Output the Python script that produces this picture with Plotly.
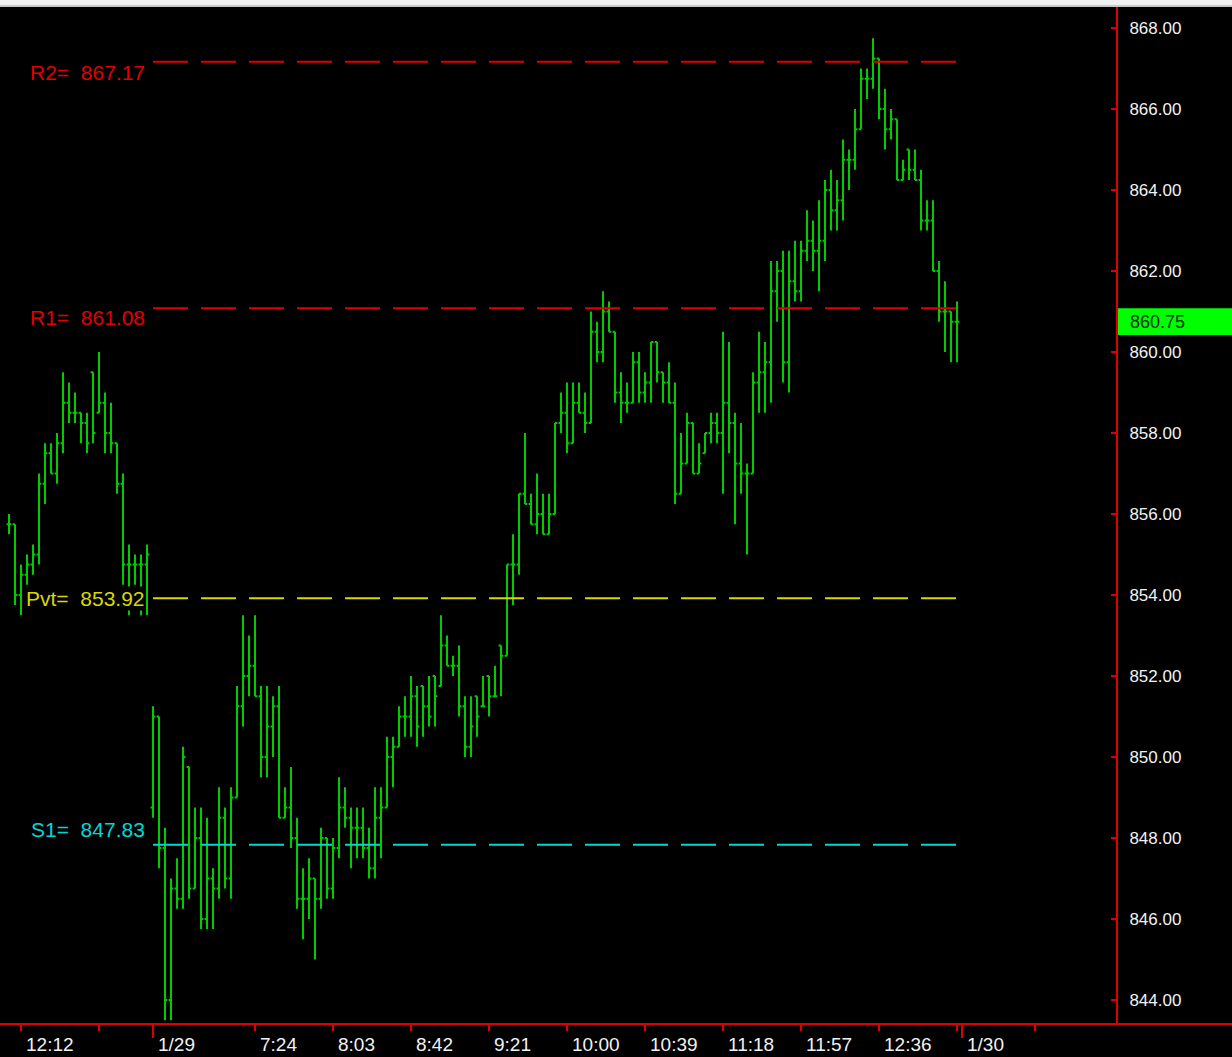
import plotly.graph_objects as go

# ---------------- data (3-minute bars) ----------------
opens = [855.75, 855.75, 854.00, 854.50, 854.75, 855.00, 856.75, 857.50, 857.00, 857.75,
         858.75, 858.50, 858.50, 858.25, 859.50, 858.50, 858.75, 858.00, 857.75, 856.75,
         854.75, 854.75, 854.75, 854.75,
         848.75, 851.00, 847.75, 844.00, 846.75, 846.50, 849.75, 846.75, 848.00, 846.00,
         847.00, 846.75, 848.50, 847.00, 849.00, 851.25, 852.00, 852.25, 851.50, 850.00,
         850.75, 851.25, 848.50, 848.75, 848.00, 846.50, 846.50, 847.00, 846.50, 848.00,
         846.75, 847.75, 848.75, 848.50, 848.25, 848.25, 847.75, 847.25, 848.50, 848.75,
         850.00, 850.25, 851.00, 851.00, 851.50, 851.75, 851.25, 852.00, 851.75, 852.75,
         852.25, 852.25, 851.25, 850.25, 851.50, 851.25, 852.00, 851.50, 852.75, 852.50,
         854.75, 854.75, 856.50, 856.25, 855.75, 856.00, 855.50, 856.00, 858.25, 858.50,
         857.75, 858.75, 858.50, 858.25, 860.50, 860.00, 861.00, 860.50, 859.00, 858.75,
         858.75, 859.75, 859.00, 859.25, 860.25, 859.50, 859.25, 858.75, 856.50, 857.25,
         858.25, 857.00, 857.50, 858.00, 858.25, 858.00, 858.75, 858.25, 857.25, 857.00,
         857.00, 859.25, 859.50, 859.75, 861.50, 862.00, 859.75, 861.75, 861.50, 862.50,
         862.75, 862.50, 862.75, 864.00, 863.50, 863.75, 864.75, 864.75, 865.50, 866.75,
         866.75, 867.25, 866.00, 865.50, 865.75, 864.25, 865.00, 864.50, 864.25, 863.25,
         863.25, 862.00, 861.00, 861.00, 860.75]
highs = [856.00, 855.75, 854.75, 855.00, 855.25, 857.00, 857.75, 857.75, 858.00, 859.50,
         859.25, 859.00, 858.50, 858.50, 859.50, 860.00, 859.00, 858.75, 857.75, 857.00,
         855.25, 855.00, 855.00, 855.25,
         851.25, 851.00, 848.25, 847.00, 847.50, 850.25, 849.75, 848.75, 848.75, 848.50,
         847.25, 849.25, 848.75, 849.25, 851.75, 853.50, 853.00, 853.50, 851.75, 851.75,
         851.50, 851.75, 849.25, 849.75, 848.50, 847.25, 847.50, 847.00, 848.25, 848.00,
         848.00, 849.50, 849.25, 848.75, 848.75, 848.75, 848.25, 849.25, 849.25, 850.50,
         850.50, 851.25, 851.50, 852.00, 851.75, 851.75, 852.00, 852.00, 853.50, 853.00,
         852.50, 852.75, 851.50, 851.50, 851.50, 852.00, 852.00, 852.25, 852.75, 854.75,
         855.50, 856.50, 858.00, 856.50, 857.00, 856.50, 856.50, 858.25, 859.00, 859.25,
         859.25, 859.25, 859.00, 861.00, 860.75, 861.50, 861.25, 860.50, 859.50, 859.25,
         860.00, 860.00, 859.50, 860.25, 860.25, 859.50, 859.75, 859.25, 858.00, 858.50,
         858.25, 857.75, 858.00, 858.50, 858.50, 860.50, 860.25, 858.50, 858.25, 857.25,
         859.50, 860.50, 860.25, 862.25, 862.25, 862.50, 862.50, 862.75, 862.75, 863.50,
         863.25, 863.75, 864.25, 864.50, 864.25, 865.25, 865.00, 866.00, 867.00, 867.00,
         867.75, 867.25, 866.50, 866.00, 865.75, 864.75, 865.00, 865.00, 864.50, 863.75,
         863.75, 862.25, 861.75, 861.00, 861.25]
lows = [855.50, 853.75, 853.50, 854.25, 854.50, 854.75, 856.25, 857.00, 856.75, 857.50,
        858.25, 858.25, 857.75, 857.50, 857.75, 858.50, 857.50, 857.50, 856.50, 854.25,
        853.50, 854.25, 853.50, 853.50,
        848.50, 847.25, 843.50, 843.50, 846.25, 846.25, 846.50, 846.75, 845.75, 845.75,
        845.75, 846.50, 846.75, 846.50, 849.00, 850.75, 851.50, 851.50, 849.50, 849.50,
        850.00, 848.50, 848.50, 847.75, 846.25, 845.50, 846.00, 845.00, 846.25, 846.50,
        846.50, 847.50, 848.25, 847.25, 847.50, 847.50, 847.00, 847.00, 847.50, 848.75,
        849.25, 850.25, 850.50, 850.50, 850.25, 850.50, 850.75, 850.75, 851.75, 852.25,
        852.00, 851.00, 850.00, 850.00, 850.50, 851.25, 851.00, 851.50, 851.50, 852.50,
        853.75, 854.50, 856.25, 855.75, 855.50, 855.50, 855.50, 856.00, 858.00, 857.50,
        857.75, 858.50, 858.00, 858.25, 859.75, 859.75, 860.50, 858.75, 858.25, 858.50,
        858.75, 858.75, 858.75, 858.75, 859.25, 858.75, 858.75, 856.25, 856.50, 857.25,
        857.00, 857.00, 857.50, 857.75, 857.75, 856.50, 857.50, 855.75, 856.50, 855.00,
        857.00, 858.50, 858.50, 858.75, 860.75, 859.25, 859.00, 861.25, 861.25, 862.25,
        862.00, 861.50, 862.25, 863.00, 863.00, 863.25, 864.00, 864.50, 865.50, 866.25,
        866.50, 865.75, 865.00, 865.25, 864.25, 864.25, 864.25, 864.25, 863.00, 863.00,
        862.00, 860.75, 860.00, 859.75, 859.75]
closes = [855.75, 854.00, 854.50, 854.75, 855.00, 856.75, 857.50, 857.00, 857.75, 858.75,
          858.50, 858.50, 858.25, 857.75, 858.00, 858.75, 858.00, 857.75, 856.75, 854.75,
          854.75, 854.75, 854.75, 855.00,
          851.00, 847.75, 844.00, 846.75, 846.50, 850.00, 846.75, 848.00, 846.00, 847.00,
          846.75, 848.50, 847.00, 849.00, 851.25, 852.00, 852.25, 851.50, 850.00, 850.75,
          851.25, 848.50, 848.75, 848.00, 846.50, 846.50, 847.00, 846.50, 848.00, 846.75,
          847.75, 848.75, 848.50, 848.25, 848.25, 847.75, 847.25, 848.50, 848.75, 850.00,
          850.25, 851.00, 851.00, 851.50, 850.75, 851.25, 851.00, 851.50, 852.75, 852.25,
          852.25, 851.25, 850.25, 850.75, 851.00, 851.25, 851.50, 851.50, 852.50, 854.75,
          854.75, 856.50, 856.25, 855.75, 856.00, 855.50, 856.00, 858.25, 858.50, 857.75,
          858.75, 858.50, 858.25, 860.50, 860.00, 861.00, 860.50, 859.00, 858.75, 858.75,
          859.75, 859.00, 859.25, 860.25, 859.50, 859.25, 858.75, 856.50, 857.25, 858.25,
          857.00, 857.25, 858.00, 858.25, 858.00, 858.75, 858.25, 857.25, 857.00, 857.00,
          859.25, 859.50, 859.75, 861.50, 862.00, 859.75, 861.75, 861.50, 862.50, 862.75,
          862.50, 862.75, 864.00, 863.50, 863.75, 864.75, 864.75, 865.50, 866.75, 866.75,
          867.25, 866.00, 865.50, 865.75, 864.25, 864.50, 864.50, 864.25, 863.25, 863.25,
          862.00, 861.00, 861.00, 860.75, 860.75]

bar_index = list(range(len(closes)))
session_start_bar = 24          # first bar of 1/29 day session
session_end_bar = len(closes) - 1

pivot_names = ["R2", "R1", "Pvt", "S1"]
pivot_values = [867.17, 861.08, 853.92, 847.83]
pivot_colors = ["#E00000", "#E00000", "#D8D800", "#00D8D8"]
pivot_label_levels = [866.91, 860.84, 853.92, 848.20]

last_price = 860.75

time_labels = ["12:12", "1/29", "7:24", "8:03", "8:42", "9:21", "10:00",
               "10:39", "11:18", "11:57", "12:36", "1/30"]
time_label_bars = [2, 24, 41, 54, 67, 80, 93, 106, 119, 132, 145, 158.9]
minor_tick_bars = [2, 15, 41, 54, 67, 80, 93, 106, 119, 132, 145, 158, 171]
major_tick_bars = [24, 158.9]

y_ticks = [844, 846, 848, 850, 852, 854, 856, 858, 860, 862, 864, 866, 868]

# ---------------- figure ----------------
W, H = 1232, 1057
ML, MR, MT, MB = 0, 116, 7, 33
PW, PH = W - ML - MR, H - MT - MB

GREEN = "#00CC00"
RED = "#DD0000"
TXT = "#F2F2F2"
FONT = "Arial, Liberation Sans, sans-serif"

fig = go.Figure()
fig.add_trace(go.Ohlc(
    x=bar_index, open=opens, high=highs, low=lows, close=closes,
    increasing=dict(line=dict(color=GREEN, width=2)),
    decreasing=dict(line=dict(color=GREEN, width=2)),
    tickwidth=0.4, hoverinfo="skip", showlegend=False,
))

for name, val, col in zip(pivot_names, pivot_values, pivot_colors):
    fig.add_trace(go.Scatter(
        x=[session_start_bar, session_end_bar], y=[val, val], mode="lines",
        line=dict(color=col, width=2, dash="35px,13px"),
        hoverinfo="skip", showlegend=False,
    ))

annotations = []
for name, val, col, lvl in zip(pivot_names, pivot_values, pivot_colors, pivot_label_levels):
    annotations.append(dict(
        x=session_start_bar - 1.2, y=lvl, xref="x", yref="y",
        text=f"{name}=\u00a0\u00a0{val:.2f}", showarrow=False,
        xanchor="right", yanchor="middle", bgcolor="black", borderpad=0,
        font=dict(family=FONT, size=21, color=col),
    ))

for lab, b in zip(time_labels, time_label_bars):
    annotations.append(dict(
        x=b, y=0, xref="x", yref="paper", text=lab, showarrow=False,
        xanchor="left", yanchor="top", xshift=3, yshift=-8,
        font=dict(family=FONT, size=19, color=TXT),
    ))

# last price label
annotations.append(dict(
    x=1 + 12 / PW, y=last_price, xref="paper", yref="y", text=f"{last_price:.2f}",
    showarrow=False, xanchor="left", yanchor="middle",
    font=dict(family=FONT, size=18, color="#003000"),
))

shapes = [
    # last price box
    dict(type="rect", xref="paper", yref="y", x0=1 + 1 / PW, x1=W / PW,
         y0=last_price - 0.33, y1=last_price + 0.33,
         fillcolor="#00FF00", line=dict(width=0), layer="below"),
    # x axis line across full width
    dict(type="line", xref="paper", yref="paper", x0=0, x1=W / PW, y0=0, y1=0,
         line=dict(color=RED, width=2)),
    # top light strip
    dict(type="rect", xref="paper", yref="paper", x0=0, x1=W / PW, y0=1, y1=1 + MT / PH,
         fillcolor="#F0F0F0", line=dict(width=0)),
    dict(type="line", xref="paper", yref="paper", x0=0, x1=W / PW, y0=1 + 1 / PH, y1=1 + 1 / PH,
         line=dict(color="#A0A0A0", width=1)),
]

fig.update_layout(
    width=W, height=H,
    margin=dict(l=ML, r=MR, t=MT, b=MB, pad=0),
    paper_bgcolor="black", plot_bgcolor="black",
    showlegend=False,
    annotations=annotations, shapes=shapes,
    xaxis=dict(
        range=[-1.5, 184.5], showgrid=False, zeroline=False, showline=False,
        rangeslider=dict(visible=False),
        tickmode="array", tickvals=major_tick_bars, ticks="outside", ticklen=13,
        tickcolor=RED, tickwidth=2, showticklabels=False,
        minor=dict(tickmode="array", tickvals=minor_tick_bars, ticks="outside",
                   ticklen=6, tickcolor=RED, tickwidth=2, showgrid=False),
    ),
    yaxis=dict(
        side="right", range=[843.407, 868.519], showgrid=False, zeroline=False,
        showline=True, linecolor=RED, linewidth=2,
        tickmode="array", tickvals=y_ticks, tickformat=".2f",
        ticks="inside", ticklen=5, tickcolor=RED, tickwidth=2,
        ticklabelstandoff=8,
        tickfont=dict(family=FONT, size=17, color=TXT),
    ),
)

fig.write_html(
    "out.html",
    config={"displayModeBar": False, "staticPlot": True},
    post_script="document.body.style.margin='0px';document.body.style.overflow='hidden';",
)
